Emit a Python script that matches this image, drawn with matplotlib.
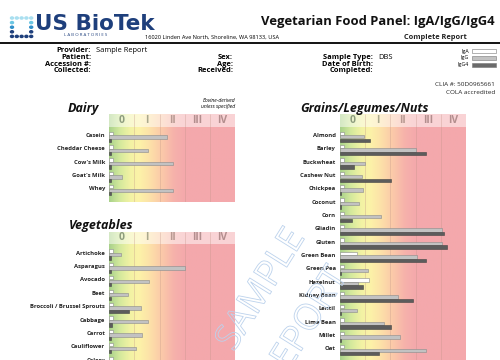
import numpy as np
import matplotlib.pyplot as plt
from matplotlib.colors import LinearSegmentedColormap
from matplotlib.patches import Rectangle
from matplotlib.lines import Line2D
import matplotlib.patheffects as pe

plt.rcParams['font.family'] = ['Open Sans', 'DejaVu Sans']

# ---- data (class units, 0..5) ----
classes = ['0', 'I', 'II', 'III', 'IV']

dairy_foods = ['Casein', 'Cheddar Cheese', "Cow's Milk", "Goat's Milk", 'Whey']
dairy_iga = [0.15, 0.15, 0.15, 0.15, 0.15]
dairy_igg = [2.29, 1.55, 2.52, 0.52, 2.52]
dairy_igg4 = [0.05, 0.05, 0.05, 0.05, 0.05]

veg_foods = ['Artichoke', 'Asparagus', 'Avocado', 'Beet', 'Broccoli / Brussel Sprouts',
             'Cabbage', 'Carrot', 'Cauliflower', 'Celery']
veg_iga = [0.15, 0.15, 0.15, 0.15, 0.15, 0.15, 0.15, 0.15, 0.15]
veg_igg = [0.47, 3.03, 1.59, 0.76, 1.26, 1.55, 1.30, 1.08, 0.9]
veg_igg4 = [0.05, 0.05, 0.05, 0.05, 0.80, 0.10, 0.05, 0.05, 0.05]

grain_foods = ['Almond', 'Barley', 'Buckwheat', 'Cashew Nut', 'Chickpea', 'Coconut', 'Corn',
               'Gliadin', 'Gluten', 'Green Bean', 'Green Pea', 'Hazelnut', 'Kidney Bean',
               'Lentil', 'Lima Bean', 'Millet', 'Oat']
grain_iga = [0.15, 0.15, 0.15, 0.15, 0.15, 0.15, 0.15, 0.15, 0.15, 0.69, 0.15, 1.16, 0.15,
             0.15, 0.15, 0.15, 0.15]
grain_igg = [0.95, 3.00, 1.00, 0.86, 0.90, 0.74, 1.61, 4.06, 4.03, 3.04, 1.10, 0.70, 2.29,
             0.69, 1.76, 2.39, 3.40]
grain_igg4 = [1.19, 3.40, 0.54, 2.01, 0.05, 0.05, 0.46, 4.11, 4.23, 3.41, 0.05, 0.93, 2.91,
              0.05, 2.01, 0.05, 1.56]

W, H = 500, 360
fig = plt.figure(figsize=(5, 3.6), dpi=100)


def fx(x):
    return x / W


def fy(y):
    return 1 - y / H


def ftext(x, y, s, **kw):
    kw.setdefault('va', 'center')
    return fig.text(fx(x), fy(y), s, **kw)


grad = LinearSegmentedColormap.from_list('risk', [
    (0.0, '#a8d18a'), (0.08, '#d2e89c'), (0.17, '#f3f3a4'), (0.24, '#fcf2a8'),
    (0.32, '#fde2a8'), (0.42, '#fbc9a9'), (0.52, '#f6b1ab'), (0.6, '#f4a9ac'),
    (1.0, '#f4a8ac')])
cls_colors = ['#8e9d7e', '#a9a88c', '#b89a92', '#b38e8e', '#b38e8e']


def panel(left, right, top, bottom, row0, step, head_bot, foods, iga, igg, igg4):
    ax = fig.add_axes([fx(left), fy(bottom), (right - left) / W, (bottom - top) / H])
    y_top = (top - row0) / step
    y_bot = (bottom - row0) / step
    hb = (head_bot - row0) / step
    ax.set_xlim(0, 5)
    ax.set_ylim(y_bot, y_top)
    ax.axis('off')
    ax.imshow(np.linspace(0, 1, 256)[None, :], extent=[0, 5, y_bot, y_top],
              cmap=grad, aspect='auto', zorder=0)
    ax.add_patch(Rectangle((0, y_top), 5, hb - y_top, facecolor='white',
                           alpha=0.5, lw=0, zorder=1))
    ax.vlines([1, 2, 3, 4], y_bot, y_top, colors='#c4968a', alpha=0.4, lw=0.6, zorder=1)
    for i, c in enumerate(classes):
        ax.text(i + 0.5, (y_top + hb) / 2, c, ha='center', va='center',
                fontsize=7.5, weight='bold', color=cls_colors[i], zorder=2)
    idx = np.arange(len(foods))
    ax.barh(idx - 0.26, iga, height=0.25, color='white', edgecolor='#8a8a8a',
            lw=0.4, zorder=3)
    ax.barh(idx, igg, height=0.25, color='#c2c2c2', edgecolor='#8a8a8a', lw=0.4, zorder=3)
    ax.barh(idx + 0.26, igg4, height=0.25, color='#5c5c5c', edgecolor='#444444',
            lw=0.4, zorder=3)
    for i, f in enumerate(foods):
        ax.text(-0.17, i - 0.1, f, ha='right', va='center', fontsize=4.2,
                weight='bold', color='#222222')
    return ax


panel(109.3, 235, 114, 202, 137, 13.3, 127, dairy_foods, dairy_iga, dairy_igg, dairy_igg4)
panel(109.3, 235, 232, 400, 254.5, 13.4, 244, veg_foods, veg_iga, veg_igg, veg_igg4)
panel(340, 466, 114, 400, 136.7, 13.35, 127, grain_foods, grain_iga, grain_igg, grain_igg4)

# panel titles
ftext(68, 108, 'Dairy', fontsize=9, weight='bold', style='italic', color='#111111')
ftext(69, 225, 'Vegetables', fontsize=9, weight='bold', style='italic', color='#111111')
ftext(300, 108, 'Grains/Legumes/Nuts', fontsize=9, weight='bold', style='italic',
      color='#111111')
ftext(235, 101, 'Bovine-derived', fontsize=3.6, style='italic', ha='right')
ftext(235, 106.5, 'unless specified', fontsize=3.6, style='italic', ha='right')

# ---- header ----
navy = '#1e3f7c'
rows = [0, 1, 2, 3, 4]
dot_cols = ['#a9dff0', '#6cc6e3', '#2f8fc9', '#1e3f7c', '#1e3f7c']
for r in rows:
    for c in rows:
        if c > 0 and 0 < r < 4 and c < 4:
            continue
        fig.add_artist(plt.Circle((fx(12 + c * 4.8), fy(18 + r * 4.6)), 1.5 / W,
                                  transform=fig.transFigure, color=dot_cols[r]))
ftext(35, 24, 'US BioTek', fontsize=15.5, weight='bold', color=navy,
      family=['Liberation Sans Narrow', 'DejaVu Sans'])
ftext(86, 35, 'L A B O R A T O R I E S', fontsize=3.2, color=navy, ha='center')
ftext(145, 37.5, '16020 Linden Ave North, Shoreline, WA 98133, USA', fontsize=4.1)
ftext(495, 22, 'Vegetarian Food Panel: IgA/IgG/IgG4', fontsize=9.4, weight='bold',
      ha='right', color='#111111')
ftext(467, 37.5, 'Complete Report', fontsize=5.3, weight='bold', ha='right',
      color='#222222')
fig.add_artist(Line2D([0, 1], [fy(42.5)] * 2, lw=1.3, color='black',
                      transform=fig.transFigure))

for y, s in zip([50.5, 57.5, 64, 70.5], ['Provider:', 'Patient:', 'Accession #:', 'Collected:']):
    ftext(91, y, s, fontsize=5.4, weight='bold', ha='right')
ftext(96, 50.5, 'Sample Report', fontsize=5.4)
for y, s in zip([57.5, 64, 70.5], ['Sex:', 'Age:', 'Received:']):
    ftext(233, y, s, fontsize=5.4, weight='bold', ha='right')
for y, s in zip([57.5, 64, 70.5], ['Sample Type:', 'Date of Birth:', 'Completed:']):
    ftext(373, y, s, fontsize=5.4, weight='bold', ha='right')
ftext(378, 57.5, 'DBS', fontsize=5.4)

for y, s, col in zip([51, 57.8, 64.5], ['IgA', 'IgG', 'IgG4'], ['white', '#c2c2c2', '#6a6a6a']):
    fig.add_artist(Rectangle((fx(472), fy(y + 2)), 24 / W, 4 / H, facecolor=col,
                             edgecolor='#777777', lw=0.4, transform=fig.transFigure))
    ftext(469, y, s, fontsize=3.8, ha='right')
ftext(495, 84, 'CLIA #: 50D0965661', fontsize=4.6, ha='right', color='#222222')
ftext(495, 92, 'COLA accredited', fontsize=4.6, ha='right', color='#222222')

# watermark
stroke = [pe.withStroke(linewidth=0.6, foreground='#bcd2ec')]
ftext(262, 290, 'SAMPLE', fontsize=26, rotation=58, ha='center', color='none',
      path_effects=stroke)
ftext(305, 328, 'REPORT', fontsize=26, rotation=58, ha='center', color='none',
      path_effects=stroke)

fig.savefig('out.png', dpi=100)
